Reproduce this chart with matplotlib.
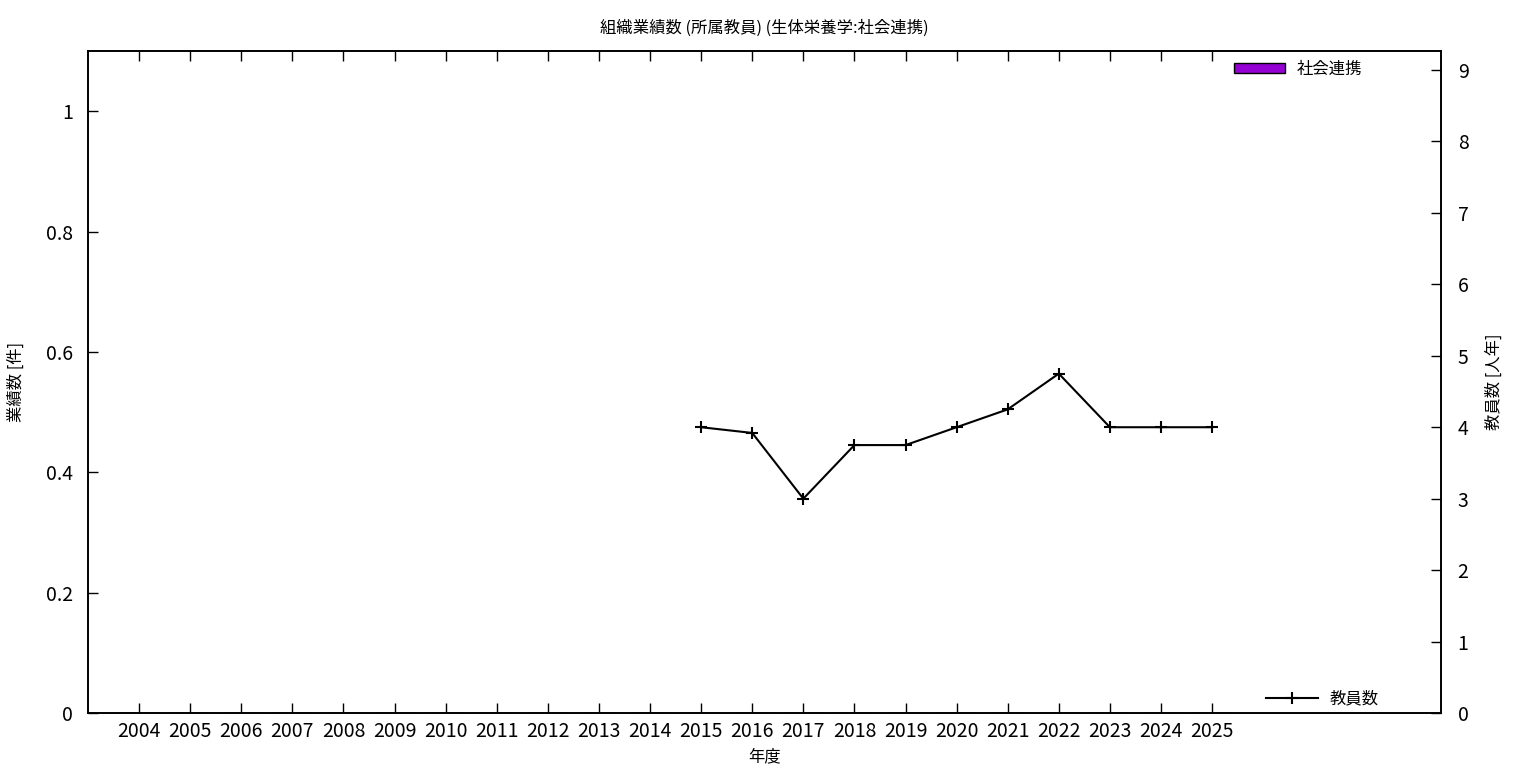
"""組織業績数 chart: zero bars (left axis) with staff count line (right axis)."""

import matplotlib

matplotlib.use("Agg")
import matplotlib.pyplot as plt
from matplotlib.patches import Patch
from matplotlib.lines import Line2D

plt.rcParams["font.family"] = ["Noto Sans CJK JP", "DejaVu Sans"]

YEARS = [str(y) for y in range(2004, 2026)]
# 社会連携 counts per year (all zero in the reference)
RENKEI = [0] * len(YEARS)
# 教員数 [人年], only from 2015 on
STAFF_YEARS = ["2015", "2016", "2017", "2018", "2019", "2020",
               "2021", "2022", "2023", "2024", "2025"]
STAFF = [4.0, 3.92, 3.0, 3.75, 3.75, 4.0, 4.25, 4.75, 4.0, 4.0, 4.0]

LEFT_TICKS = [0, 0.2, 0.4, 0.6, 0.8, 1]
LEFT_LABELS = ["0", "0.2", "0.4", "0.6", "0.8", "1"]
RIGHT_TICKS = list(range(10))

fig = plt.figure(figsize=(15.36, 7.68), dpi=100)
ax = fig.add_axes([88 / 1536, 1 - 713 / 768, (1441 - 88) / 1536, (713 - 51) / 768])
ax2 = ax.twinx()

xpos = list(range(len(YEARS)))
ax.bar(xpos, RENKEI, width=0.8, color="#9400d3", edgecolor="black", linewidth=1)

sx = [YEARS.index(y) for y in STAFF_YEARS]
ax2.plot(sx, STAFF, color="black", linewidth=1.5, marker="+", markersize=8,
         markeredgewidth=1.5)

ax.set_xlim(-1, 25.48)
ax.set_ylim(0, 1.1)
ax2.set_ylim(0, 9.266)

ax.set_xticks(xpos)
ax.set_xticklabels(YEARS, fontsize=14)
ax.set_yticks(LEFT_TICKS)
ax.set_yticklabels(LEFT_LABELS, fontsize=14)
ax2.set_yticks(RIGHT_TICKS)
ax2.set_yticklabels([str(t) for t in RIGHT_TICKS], fontsize=14)

ax.tick_params(axis="x", direction="in", length=7, width=1, top=True, pad=6)
ax.tick_params(axis="y", direction="in", length=7, width=1, pad=11)
ax2.tick_params(axis="y", direction="in", length=7, width=1, pad=12)

for a in (ax, ax2):
    for s in a.spines.values():
        s.set_linewidth(1.2)

ax.set_xlabel("年度", fontsize=11.75, labelpad=4)
ax.set_ylabel("業績数 [件]", fontsize=11.75)
ax.yaxis.set_label_coords(-0.047, 0.5)
ax2.set_ylabel("教員数 [人年]", fontsize=11.75)
ax2.yaxis.set_label_coords(1.033, 0.5)
ax.set_title("組織業績数 (所属教員) (生体栄養学:社会連携)", fontsize=11.75, pad=13)

bar_handle = Patch(facecolor="#9400d3", edgecolor="black", linewidth=1)
leg1 = ax2.legend([bar_handle], ["社会連携"], loc="upper right",
                  bbox_to_anchor=(0.950, 1.003), frameon=False, fontsize=11.75,
                  handlelength=3.1, handleheight=0.55, handletextpad=0.7,
                  borderaxespad=0.3)
ax2.add_artist(leg1)
line_handle = Line2D([], [], color="black", linewidth=1.5, marker="+",
                     markersize=8, markeredgewidth=1.5)
ax2.legend([line_handle], ["教員数"], loc="lower right",
           bbox_to_anchor=(0.965, -0.0136), frameon=False, fontsize=11.75,
           handlelength=3.2, handletextpad=0.7)

fig.savefig("out.png", dpi=100)
